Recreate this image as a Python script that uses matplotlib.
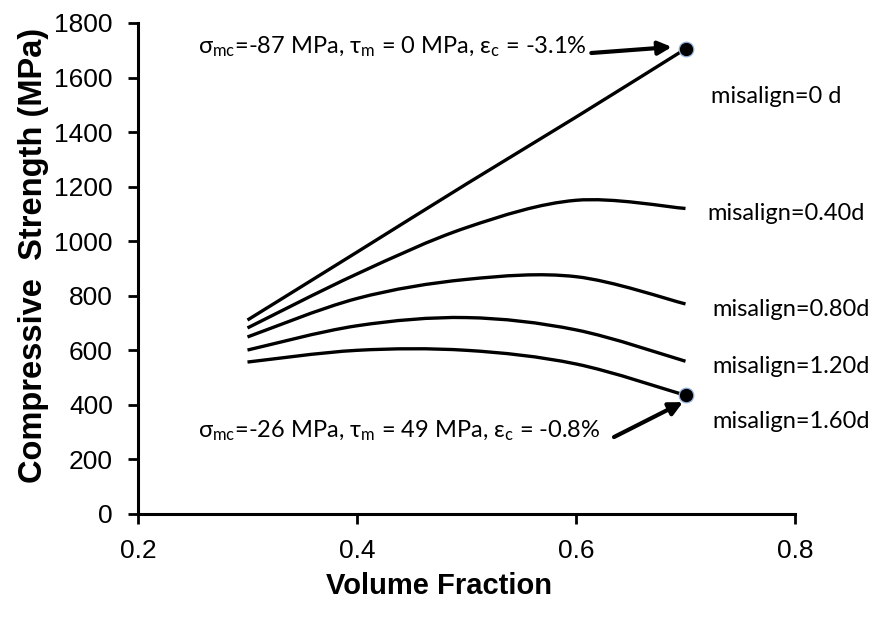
import numpy as np
import matplotlib
matplotlib.use("Agg")
import matplotlib.pyplot as plt
from matplotlib.path import Path
from matplotlib.patches import PathPatch

plt.rcParams['mathtext.fontset'] = 'custom'
plt.rcParams['mathtext.rm'] = 'Lato'
plt.rcParams['mathtext.it'] = 'Lato'

vf = [0.3, 0.4, 0.5, 0.6, 0.7]
series_labels = ["misalign=0 d", "misalign=0.40d", "misalign=0.80d", "misalign=1.20d", "misalign=1.60d"]
s_0d = [711, 960, 1210, 1455, 1705]
s_040d = [682, 880, 1050, 1150, 1120]
s_080d = [649, 790, 860, 870, 770]
s_120d = [601, 690, 720, 675, 560]
s_160d = [557, 600, 600, 550, 435]
series = [s_0d, s_040d, s_080d, s_120d, s_160d]

xticks = [0.2, 0.4, 0.6, 0.8]
yticks = [0, 200, 400, 600, 800, 1000, 1200, 1400, 1600, 1800]

top_note = r"$\mathrm{σ}_{\mathrm{mc}}$=-87 MPa, $\mathrm{τ}_{\mathrm{m}}$ = 0 MPa, $\mathrm{ε}_{\mathrm{c}}$ = -3.1%"
bot_note = r"$\mathrm{σ}_{\mathrm{mc}}$=-26 MPa, $\mathrm{τ}_{\mathrm{m}}$ = 49 MPa, $\mathrm{ε}_{\mathrm{c}}$ = -0.8%"

fig = plt.figure(figsize=(8.7, 6.18), dpi=100)
ax = fig.add_axes([0.1586, 0.1683, 0.7552, 0.7945])


def smooth_path(x, y):
    # Excel-style smoothed line: cubic Bezier through points (Catmull-Rom tangents)
    x = np.asarray(x, float); y = np.asarray(y, float)
    n = len(x)
    verts = [(x[0], y[0])]
    codes = [Path.MOVETO]
    for i in range(n - 1):
        p0 = np.array([x[max(i - 1, 0)], y[max(i - 1, 0)]])
        p1 = np.array([x[i], y[i]])
        p2 = np.array([x[i + 1], y[i + 1]])
        p3 = np.array([x[min(i + 2, n - 1)], y[min(i + 2, n - 1)]])
        c1 = p1 + (p2 - p0) / 6.0
        c2 = p2 - (p3 - p1) / 6.0
        verts += [tuple(c1), tuple(c2), tuple(p2)]
        codes += [Path.CURVE4] * 3
    return Path(verts, codes)


for s in series:
    patch = PathPatch(smooth_path(vf, s), facecolor='none', edgecolor='black',
                      lw=2.4, capstyle='butt', zorder=3)
    ax.add_patch(patch)

# end markers
ax.plot([vf[-1], vf[-1]], [s_0d[-1], s_160d[-1]], linestyle='none', marker='o',
        markersize=10.5, markerfacecolor='black', markeredgecolor='#8fb0dc',
        markeredgewidth=0.9, zorder=5)

ax.set_xlim(0.2, 0.8)
ax.set_ylim(0, 1800)
ax.set_xticks(xticks)
ax.set_yticks(yticks)
ax.set_xticklabels([f"{v:.1f}" for v in xticks], fontfamily='Liberation Sans', fontsize=19)
ax.set_yticklabels([str(v) for v in yticks], fontfamily='Liberation Sans', fontsize=19)
for sp in ['top', 'right']:
    ax.spines[sp].set_visible(False)
for sp in ['left', 'bottom']:
    ax.spines[sp].set_linewidth(2.2)
ax.tick_params(direction='out', length=7, width=2.0)
ax.tick_params(axis='x', pad=11)
ax.tick_params(axis='y', pad=11)

ax.set_xlabel("Volume Fraction", fontfamily='Liberation Sans', fontweight='bold',
              fontsize=21)
ax.xaxis.set_label_coords(0.458, -0.118)
ax.set_ylabel("Compressive  Strength (MPa)", fontfamily='Liberation Sans',
              fontweight='bold', fontsize=23.5)
ax.yaxis.set_label_coords(-0.135, 0.527)

# series labels at right
label_pos = [(0.723, 1529), (0.7196, 1101), (0.7242, 750), (0.7242, 541), (0.7242, 340)]
for lab, (lx, ly) in zip(series_labels, label_pos):
    ax.text(lx, ly, lab, fontfamily='Lato', fontsize=17, va='center', ha='left')

# annotations
ax.text(0.2548, 1712, top_note, fontfamily='Lato', fontsize=17, va='center', ha='left')
ax.text(0.2548, 304, bot_note, fontfamily='Lato', fontsize=17, va='center', ha='left')
ax.annotate("", xy=(0.6875, 1712), xytext=(0.614, 1690),
            arrowprops=dict(arrowstyle='-|>', lw=3, color='black',
                            mutation_scale=20, shrinkA=0, shrinkB=0))
ax.annotate("", xy=(0.6977, 410), xytext=(0.6347, 282),
            arrowprops=dict(arrowstyle='-|>', lw=3, color='black',
                            mutation_scale=20, shrinkA=0, shrinkB=0))

fig.savefig("out.png", dpi=100)
